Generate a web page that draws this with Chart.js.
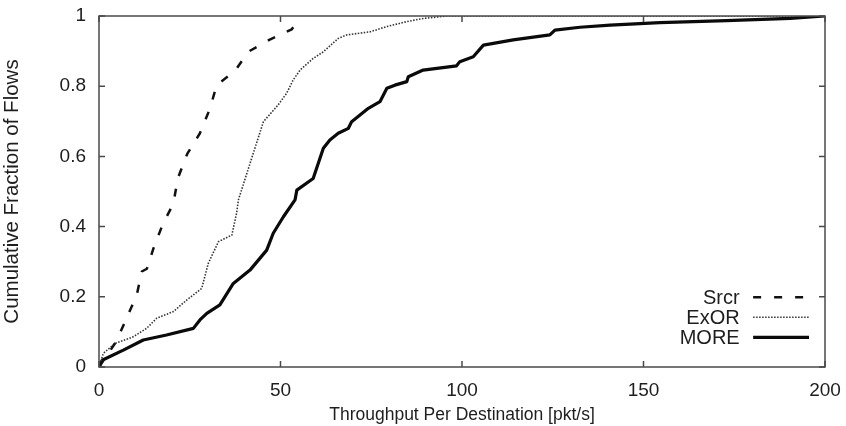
<!DOCTYPE html>
<html>
<head>
<meta charset="utf-8">
<script src="https://cdn.jsdelivr.net/npm/chart.js@4/dist/chart.umd.min.js"></script>
<style>
  html, body { margin: 0; padding: 0; background: #fff; }
  #wrap { width: 846px; height: 426px; }
</style>
</head>
<body>
<div id="wrap"><canvas id="c" width="846" height="426"></canvas></div>
<script>
// ---- data ----
const seriesNames = ["Srcr", "ExOR", "MORE"];

const srcrX = [0, 2, 4.7, 7.6, 10.4, 11.8, 13.2, 15, 17.5, 20.5, 21.7, 24.3, 27.8, 30.6, 32.4, 37.5, 41.1, 46.9, 53.1, 55];
const srcrY = [0, 0.03, 0.072, 0.139, 0.205, 0.272, 0.28, 0.338, 0.405, 0.466, 0.537, 0.607, 0.666, 0.737, 0.803, 0.844, 0.898, 0.932, 0.962, 0.99];

const exorX = [0, 1.2, 4.4, 9.4, 13.1, 15.9, 20.5, 24.2, 28.3, 30.1, 32.9, 36.6, 37.9, 38.4, 42.5, 45.3, 49.3, 51.7, 53.5, 55.4, 59, 61.8, 65.9, 68.2, 74.7, 79.3, 84.8, 89.3, 95.8, 200];
const exorY = [0, 0.039, 0.067, 0.086, 0.11, 0.139, 0.158, 0.191, 0.224, 0.295, 0.357, 0.376, 0.438, 0.476, 0.609, 0.699, 0.746, 0.78, 0.818, 0.846, 0.879, 0.898, 0.936, 0.946, 0.955, 0.97, 0.984, 0.993, 1.0, 1.0];

const moreX = [0, 1, 6.7, 12.2, 18.6, 26, 27.8, 29.7, 33.3, 37, 41.6, 46.2, 48, 50.8, 54, 54.5, 59, 61.8, 63.6, 65.9, 68.7, 69.6, 74.2, 77.4, 79.3, 81.5, 84.8, 85.2, 89.3, 98.5, 99.4, 103.1, 105.9, 114.1, 124.2, 125.6, 132.5, 140.8, 154.5, 172.9, 190.4, 200];
const moreY = [0, 0.02, 0.048, 0.077, 0.091, 0.11, 0.134, 0.153, 0.177, 0.238, 0.276, 0.333, 0.381, 0.428, 0.476, 0.504, 0.537, 0.623, 0.647, 0.666, 0.68, 0.699, 0.737, 0.756, 0.794, 0.803, 0.813, 0.827, 0.846, 0.858, 0.87, 0.884, 0.917, 0.932, 0.946, 0.96, 0.968, 0.974, 0.981, 0.987, 0.993, 1.0];

const xTicks = [0, 50, 100, 150, 200];
const yTicks = [0, 0.2, 0.4, 0.6, 0.8, 1];

const xTitle = "Throughput Per Destination [pkt/s]";
const yTitle = "Cumulative Fraction of Flows";

// ---- build ----
const pts = (xs, ys) => xs.map((x, i) => ({ x: x, y: ys[i] }));
const FONT = "'Liberation Sans', Arial, Helvetica, sans-serif";
const TXT = "#1e1e1e";
const FRAME = "#4a4a4a";

const frameAndTicks = {
  id: "frameAndTicks",
  afterDatasetsDraw(chart) {
    const { ctx, chartArea: a, scales } = chart;
    ctx.save();
    ctx.strokeStyle = FRAME;
    ctx.lineWidth = 1.5;
    ctx.strokeRect(a.left, a.top, a.right - a.left, a.bottom - a.top);
    const L = 6;
    ctx.beginPath();
    xTicks.forEach(v => {
      const px = scales.x.getPixelForValue(v);
      ctx.moveTo(px, a.bottom); ctx.lineTo(px, a.bottom - L);
      ctx.moveTo(px, a.top); ctx.lineTo(px, a.top + L);
    });
    yTicks.forEach(v => {
      const py = scales.y.getPixelForValue(v);
      ctx.moveTo(a.left, py); ctx.lineTo(a.left + L, py);
      ctx.moveTo(a.right, py); ctx.lineTo(a.right - L, py);
    });
    ctx.stroke();

    // legend (text right-aligned, sample line to the right)
    const textRight = scales.x.getPixelForValue(176.5);
    const lineStart = scales.x.getPixelForValue(180.2);
    const lineEnd = scales.x.getPixelForValue(195.6);
    const row0 = scales.y.getPixelForValue(0.2) + 0.5;
    ctx.font = "20px " + FONT;
    ctx.textAlign = "right";
    ctx.textBaseline = "middle";
    chart.data.datasets.forEach((ds, i) => {
      const y = row0 + i * 20;
      ctx.fillStyle = TXT;
      ctx.fillText(ds.label, textRight, y + 1);
      ctx.beginPath();
      ctx.strokeStyle = ds.borderColor;
      ctx.lineWidth = ds.borderWidth;
      ctx.setLineDash(ds.borderDash || []);
      ctx.moveTo(lineStart, y);
      ctx.lineTo(lineEnd, y);
      ctx.stroke();
      ctx.setLineDash([]);
    });
    ctx.restore();
  }
};

new Chart(document.getElementById("c"), {
  type: "line",
  data: {
    datasets: [
      { label: seriesNames[0], data: pts(srcrX, srcrY), borderColor: "#111", borderWidth: 2.5, borderDash: [8, 13] },
      { label: seriesNames[1], data: pts(exorX, exorY), borderColor: "#333", borderWidth: 1.6, borderDash: [1.5, 1.5] },
      { label: seriesNames[2], data: pts(moreX, moreY), borderColor: "#0a0a0a", borderWidth: 3.2 }
    ]
  },
  options: {
    responsive: false,
    animation: false,
    devicePixelRatio: 1,
    layout: { padding: { left: 0, top: 16, right: 21, bottom: 0 } },
    elements: { point: { radius: 0 }, line: { tension: 0, borderCapStyle: "butt", borderJoinStyle: "round" } },
    plugins: { legend: { display: false }, tooltip: { enabled: false } },
    scales: {
      x: {
        type: "linear", min: 0, max: 200,
        afterBuildTicks: s => { s.ticks = xTicks.map(v => ({ value: v })); },
        afterFit: s => { s.height = 59; s.paddingLeft = 0; s.paddingRight = 0; },
        grid: { display: false, drawTicks: false },
        border: { display: false },
        ticks: { color: TXT, font: { family: FONT, size: 19 }, padding: 12, maxRotation: 0, callback: v => String(v) },
        title: { display: true, text: xTitle, color: TXT, font: { family: FONT, size: 17.5 }, padding: { top: 0, bottom: 0 } }
      },
      y: {
        type: "linear", min: 0, max: 1,
        afterBuildTicks: s => { s.ticks = yTicks.map(v => ({ value: v })); },
        afterFit: s => { s.width = 99; s.paddingTop = 0; s.paddingBottom = 0; },
        grid: { display: false, drawTicks: false },
        border: { display: false },
        ticks: { color: TXT, font: { family: FONT, size: 19 }, padding: 13, callback: v => String(v) },
        title: { display: true, text: yTitle, color: TXT, font: { family: FONT, size: 20.5 }, padding: { top: 0, bottom: 0 } }
      }
    }
  },
  plugins: [frameAndTicks]
});
</script>
</body>
</html>
